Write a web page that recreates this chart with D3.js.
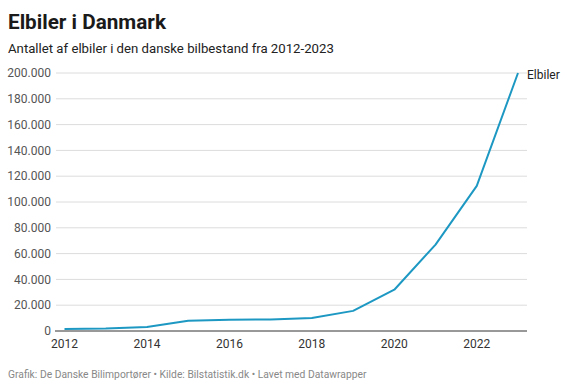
<!DOCTYPE html>
<html><head><meta charset="utf-8">
<script src="https://cdn.jsdelivr.net/npm/d3@7"></script>
<style>
body{margin:0;background:#fff;font-family:Roboto,"Noto Sans",sans-serif;}
svg{display:block}
</style></head><body>
<svg id="c" width="576" height="390"></svg>
<script>
const years = [2012,2013,2014,2015,2016,2017,2018,2019,2020,2021,2022,2023];
const elbiler = [1500,1900,3100,8000,8800,8900,10100,15600,32000,67000,112500,200000];
const yTicks = [0,20000,40000,60000,80000,100000,120000,140000,160000,180000,200000];
const xTicks = [2012,2014,2016,2018,2020,2022];
const seriesName = "Elbiler";

const svg = d3.select("#c");
const x = d3.scaleLinear().domain([2012,2023]).range([64.5,518]);
const y = d3.scaleLinear().domain([0,200000]).range([331,73]);
const fmt = v => d3.format(",")(v).replace(/,/g,".");

svg.append("text").attr("x",8).attr("y",29).attr("font-size",20.7).attr("font-weight",700).attr("fill","#1a1a1a").text("Elbiler i Danmark");
svg.append("text").attr("x",8).attr("y",53).attr("font-size",13.2).attr("fill","#222").text("Antallet af elbiler i den danske bilbestand fra 2012-2023");

const gy = svg.append("g");
gy.selectAll("line").data(yTicks.filter(d=>d>0)).join("line")
  .attr("x1",56).attr("x2",527).attr("y1",d=>y(d)).attr("y2",d=>y(d))
  .attr("stroke","#dcdcdc").attr("stroke-width",1);
gy.selectAll("text").data(yTicks).join("text")
  .attr("x",51).attr("y",d=>y(d)).attr("dy","0.35em").attr("text-anchor","end")
  .attr("font-size",12).attr("fill","#555").text(d=>fmt(d));

svg.append("line").attr("x1",55).attr("x2",527).attr("y1",y(0)).attr("y2",y(0)).attr("stroke","#333").attr("stroke-width",1);

svg.append("g").selectAll("text").data(xTicks).join("text")
  .attr("x",d=>x(d)).attr("y",348).attr("text-anchor","middle")
  .attr("font-size",12).attr("fill","#333").text(d=>d);

const line = d3.line().x((d,i)=>x(years[i])).y(d=>y(d));
svg.append("path").datum(elbiler).attr("d",line).attr("fill","none")
  .attr("stroke","#1d98c3").attr("stroke-width",2).attr("stroke-linejoin","round");

svg.append("text").attr("x",527).attr("y",y(elbiler[elbiler.length-1])+2).attr("dy","0.35em")
  .attr("font-size",12).attr("fill","#222").text(seriesName);

svg.append("text").attr("x",8).attr("y",378).attr("font-size",10.3).attr("fill","#888")
  .text("Grafik: De Danske Bilimportører • Kilde: Bilstatistik.dk • Lavet med Datawrapper");
</script>
</body></html>
